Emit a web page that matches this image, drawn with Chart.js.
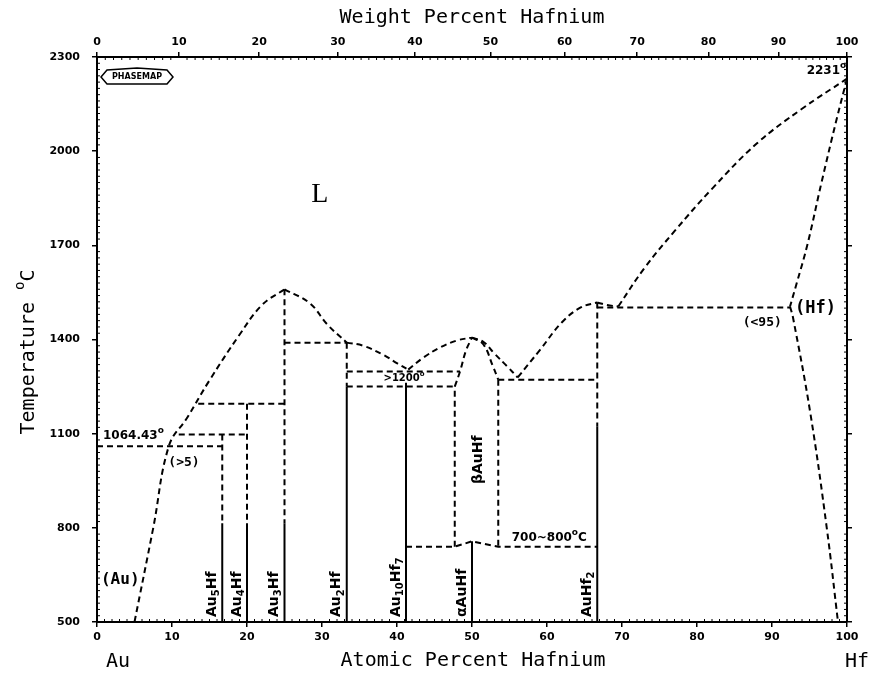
<!DOCTYPE html>
<html>
<head>
<meta charset="utf-8">
<script src="https://cdn.jsdelivr.net/npm/chart.js@4.4.1/dist/chart.umd.min.js"></script>
<style>
  html, body { margin: 0; padding: 0; background: #fff; }
  #wrap { width: 875px; height: 677px; }
</style>
</head>
<body>
<div id="wrap"><canvas id="chart" width="875" height="677"></canvas></div>
<script>
// Diagramme de phases Au-Hf (pourcentage atomique Hf / température)

// TICKS
const atTicks = [0, 10, 20, 30, 40, 50, 60, 70, 80, 90, 100];
const wtTicks = [0, 10, 20, 30, 40, 50, 60, 70, 80, 90, 100];
const tempTicks = [500, 800, 1100, 1400, 1700, 2000, 2300];

// COURBES (at.% Hf, °C)
const auLiquidus = [[5, 500], [7.5, 800], [9.6, 1062], [12, 1150], [15, 1270], [19, 1415], [22, 1510], [25, 1560]];
const au3HfLiquidus = [[25, 1560], [28.4, 1515], [30.7, 1448], [33.3, 1390]];
const au2HfLiquidus = [[33.3, 1390], [35.5, 1380], [38.1, 1352], [40.1, 1323], [41.5, 1304]];
const betaLiquidusLeft = [[41.5, 1304], [43.5, 1342], [45.7, 1374], [48, 1397], [50, 1406]];
const betaLiquidusRight = [[50, 1406], [51.5, 1393], [53, 1355], [54.7, 1314], [56.1, 1279]];
const auHf2Liquidus = [[56.1, 1279], [59.1, 1368], [62, 1455], [64.5, 1502], [66.7, 1518]];
const auHf2ToEutectic = [[66.7, 1518], [68, 1510], [69.5, 1505]];
const hfLiquidus = [[69.5, 1505], [73, 1628], [77, 1745], [82, 1880], [88, 2025], [94, 2135], [100, 2231]];
const hfSolidus = [[100, 2231], [98.6, 2100], [96.6, 1900], [94.7, 1700], [93.3, 1580], [92.4, 1505]];
const hfSolvus = [[92.4, 1505], [92.8, 1470], [95.1, 1167], [97.3, 800], [98.8, 500]];
const betaLeftTop = [[47.7, 1250], [48.4, 1298], [49.2, 1365], [50, 1406]];
const betaRightTop = [[50, 1406], [51.5, 1385], [52.8, 1314], [53.5, 1272]];

// PALIERS ET LIMITES DROITES
const auEutectic = [[0, 1060], [16.7, 1060]];
const au5HfPeritectic = [[10.9, 1097], [20, 1097]];
const au4HfPeritectic = [[13.5, 1195], [25, 1195]];
const au2HfPeritectic = [[25, 1390], [33.3, 1390]];
const line1300 = [[33.3, 1298], [48.4, 1298]];
const line1250 = [[33.3, 1250], [47.7, 1250]];
const auHf2Eutectic = [[53.5, 1272], [66.7, 1272]];
const hfEutectic = [[66.7, 1502], [92.4, 1502]];
const lowTransition = [[41.2, 740], [47.7, 740], [50, 757], [53.5, 740], [66.7, 740]];
const betaLeftSide = [[47.7, 740], [47.7, 1250]];
const betaRightSide = [[53.5, 1272], [53.5, 740]];

// COMPOSES (partie pointillée / partie pleine)
const au5HfDashed = [[16.7, 1097], [16.7, 815]];
const au5HfSolid = [[16.7, 815], [16.7, 500]];
const au4HfDashed = [[20, 1195], [20, 815]];
const au4HfSolid = [[20, 815], [20, 500]];
const au3HfDashed = [[25, 1560], [25, 815]];
const au3HfSolid = [[25, 815], [25, 500]];
const au2HfDashed = [[33.3, 1390], [33.3, 1250]];
const au2HfSolid = [[33.3, 1250], [33.3, 500]];
const au10Hf7Solid = [[41.2, 1262], [41.2, 500]];
const alphaAuHfSolid = [[50, 757], [50, 500]];
const auHf2Dashed = [[66.7, 1518], [66.7, 1122]];
const auHf2Solid = [[66.7, 1122], [66.7, 500]];

const wtToAt = w => {
  const a = w / 178.49, b = (100 - w) / 196.97;
  return 100 * a / (a + b);
};

function line(arr, dashed, curve) {
  return {
    data: arr.map(p => ({ x: p[0], y: p[1] })),
    showLine: true,
    borderColor: '#000',
    borderWidth: 2,
    borderDash: dashed ? [6, 4] : [],
    pointRadius: 0,
    tension: curve ? 0.4 : 0,
    fill: false,
    clip: 4
  };
}

const datasets = [
  line(auLiquidus, true, true),
  line(au3HfLiquidus, true, true),
  line(au2HfLiquidus, true, true),
  line(betaLiquidusLeft, true, true),
  line(betaLiquidusRight, true, true),
  line(auHf2Liquidus, true, true),
  line(auHf2ToEutectic, true, true),
  line(hfLiquidus, true, true),
  line(hfSolidus, true, true),
  line(hfSolvus, true, true),
  line(betaLeftTop, true, true),
  line(betaRightTop, true, true),
  line(auEutectic, true),
  line(au5HfPeritectic, true),
  line(au4HfPeritectic, true),
  line(au2HfPeritectic, true),
  line(line1300, true),
  line(line1250, true),
  line(auHf2Eutectic, true),
  line(hfEutectic, true),
  line(lowTransition, true),
  line(betaLeftSide, true),
  line(betaRightSide, true),
  line(au5HfDashed, true), line(au5HfSolid, false),
  line(au4HfDashed, true), line(au4HfSolid, false),
  line(au3HfDashed, true), line(au3HfSolid, false),
  line(au2HfDashed, true), line(au2HfSolid, false),
  line(au10Hf7Solid, false),
  line(alphaAuHfSolid, false),
  line(auHf2Dashed, true), line(auHf2Solid, false)
];

// TEXTE AVEC INDICES / EXPOSANTS
function richWidth(ctx, parts, size, family, weight) {
  let w = 0;
  parts.forEach(p => {
    const s = p[1] ? Math.round(size * 0.72) : size;
    ctx.font = weight + ' ' + s + 'px ' + family;
    w += ctx.measureText(p[0]).width;
  });
  return w;
}

function drawRich(ctx, parts, x, y, size, family, weight, align) {
  const w = richWidth(ctx, parts, size, family, weight);
  let cx = align === 'center' ? x - w / 2 : align === 'right' ? x - w : x;
  ctx.textBaseline = 'middle';
  ctx.textAlign = 'left';
  parts.forEach(p => {
    const s = p[1] ? Math.round(size * 0.72) : size;
    ctx.font = weight + ' ' + s + 'px ' + family;
    let dy = 0;
    if (p[1] === 'sup') dy = -size * 0.45;
    if (p[1] === 'sub') dy = size * 0.3;
    ctx.fillText(p[0], cx, y + dy);
    cx += ctx.measureText(p[0]).width;
  });
}

function drawVertical(ctx, parts, x, y, size, family, weight, align) {
  ctx.save();
  ctx.translate(x, y);
  ctx.rotate(-Math.PI / 2);
  drawRich(ctx, parts, 0, 0, size, family, weight, align);
  ctx.restore();
}

const MONO = '"DejaVu Sans Mono", monospace';
const SANS = '"DejaVu Sans", sans-serif';

const decorPlugin = {
  id: 'decor',
  afterDraw(chart) {
    const ctx = chart.ctx;
    const xs = chart.scales.x, ys = chart.scales.y;
    const a = chart.chartArea;
    const px = v => xs.getPixelForValue(v);
    const py = v => ys.getPixelForValue(v);
    ctx.save();
    ctx.fillStyle = '#000';
    ctx.strokeStyle = '#000';

    // petites graduations
    ctx.lineWidth = 1;
    ctx.beginPath();
    for (let i = 1; i < 100; i++) {
      if (i % 10 === 0) continue;
      const x = px(i);
      ctx.moveTo(x, a.bottom); ctx.lineTo(x, a.bottom - 3);
      const xt = px(wtToAt(i));
      ctx.moveTo(xt, a.top); ctx.lineTo(xt, a.top + 3);
    }
    for (let t = 520; t < 2300; t += 20) {
      if ((t - 500) % 300 === 0) continue;
      const y = py(t);
      ctx.moveTo(a.left, y); ctx.lineTo(a.left + 3, y);
      ctx.moveTo(a.right, y); ctx.lineTo(a.right - 3, y);
    }
    ctx.stroke();

    // titres des axes
    drawRich(ctx, [['Weight Percent Hafnium']], 472, 18, 20, MONO, 'normal', 'center');
    drawRich(ctx, [['Atomic Percent Hafnium']], 473, 661, 20, MONO, 'normal', 'center');
    drawRich(ctx, [['Au']], 118, 662, 20, MONO, 'normal', 'center');
    drawRich(ctx, [['Hf']], 857, 662, 20, MONO, 'normal', 'center');
    drawVertical(ctx, [['Temperature '], ['o', 'sup'], ['C']], 29, 352, 20, MONO, 'normal', 'center');

    // logo PHASEMAP
    const lx = a.left + 4, ly = a.top + 12;
    ctx.lineWidth = 1.5;
    ctx.beginPath();
    ctx.moveTo(lx, ly + 8);
    ctx.lineTo(lx + 6, ly + 1);
    ctx.lineTo(lx + 36, ly - 1);
    ctx.lineTo(lx + 66, ly + 1);
    ctx.lineTo(lx + 72, ly + 8);
    ctx.lineTo(lx + 66, ly + 15);
    ctx.lineTo(lx + 6, ly + 15);
    ctx.closePath();
    ctx.stroke();
    drawRich(ctx, [['PHASEMAP']], lx + 36, ly + 8, 8, SANS, 'bold', 'center');

    // étiquettes
    ctx.font = 'normal 28px "Liberation Serif", serif';
    ctx.textAlign = 'center';
    ctx.textBaseline = 'middle';
    ctx.fillText('L', px(29.7), py(1862));

    drawRich(ctx, [['(Au)']], px(3.1), py(634), 16, MONO, 'bold', 'center');
    drawRich(ctx, [['(>5)']], px(11.6), py(1007), 13, MONO, 'bold', 'center');
    drawRich(ctx, [['1064.43'], ['o', 'sup']], px(0.8), py(1092), 12, SANS, 'bold', 'left');
    drawRich(ctx, [['(<95)']], px(88.7), py(1454), 13, MONO, 'bold', 'center');
    drawRich(ctx, [['(Hf)']], px(95.8), py(1497), 17, MONO, 'bold', 'center');
    drawRich(ctx, [['2231'], ['o', 'sup']], px(99.9), py(2255), 12, SANS, 'bold', 'right');
    drawRich(ctx, [['>1200'], ['o', 'sup']], px(38.2), py(1275), 10, SANS, 'bold', 'left');
    drawRich(ctx, [['700~800'], ['o', 'sup'], ['C']], px(60.3), py(768), 12, SANS, 'bold', 'center');

    // composés (texte vertical)
    const yb = py(500) - 5;
    drawVertical(ctx, [['Au'], ['5', 'sub'], ['Hf']], px(16.7) - 10, yb, 14, SANS, 'bold', 'left');
    drawVertical(ctx, [['Au'], ['4', 'sub'], ['Hf']], px(20) - 10, yb, 14, SANS, 'bold', 'left');
    drawVertical(ctx, [['Au'], ['3', 'sub'], ['Hf']], px(25) - 10, yb, 14, SANS, 'bold', 'left');
    drawVertical(ctx, [['Au'], ['2', 'sub'], ['Hf']], px(33.3) - 10, yb, 14, SANS, 'bold', 'left');
    drawVertical(ctx, [['Au'], ['10', 'sub'], ['Hf'], ['7', 'sub']], px(41.2) - 10, yb, 14, SANS, 'bold', 'left');
    drawVertical(ctx, [['\u03b1AuHf']], px(50) - 10, yb, 14, SANS, 'bold', 'left');
    drawVertical(ctx, [['AuHf'], ['2', 'sub']], px(66.7) - 10, yb, 14, SANS, 'bold', 'left');
    drawVertical(ctx, [['\u03b2AuHf']], px(50.8), py(1017), 14, SANS, 'bold', 'center');

    ctx.restore();
  }
};

const tickFont = { family: '"DejaVu Sans", sans-serif', size: 11, weight: 'bold' };
const axisBase = {
  type: 'linear',
  grid: { display: true, drawOnChartArea: false, drawTicks: true, tickLength: 5, color: '#000', lineWidth: 1.5 },
  border: { display: true, color: '#000', width: 2 },
  ticks: { color: '#000', font: tickFont, autoSkip: false, maxRotation: 0, callback: v => String(v) }
};

new Chart(document.getElementById('chart'), {
  type: 'scatter',
  data: { datasets: datasets },
  options: {
    responsive: false,
    animation: false,
    layout: { padding: 0 },
    plugins: { legend: { display: false }, tooltip: { enabled: false } },
    scales: {
      x: Object.assign({}, axisBase, {
        position: 'bottom', min: 0, max: 100,
        ticks: Object.assign({}, axisBase.ticks, { padding: 4 }),
        afterBuildTicks: s => { s.ticks = atTicks.map(v => ({ value: v })); },
        afterFit: s => { s.height = 55; }
      }),
      x2: Object.assign({}, axisBase, {
        position: 'top', min: 0, max: 100,
        ticks: Object.assign({}, axisBase.ticks, { padding: 3, callback: (v, i) => String(wtTicks[i]) }),
        afterBuildTicks: s => { s.ticks = wtTicks.map(w => ({ value: wtToAt(w) })); },
        afterFit: s => { s.height = 57; }
      }),
      y: Object.assign({}, axisBase, {
        position: 'left', min: 500, max: 2300,
        ticks: Object.assign({}, axisBase.ticks, { padding: 12 }),
        afterBuildTicks: s => { s.ticks = tempTicks.map(v => ({ value: v })); },
        afterFit: s => { s.width = 97; }
      }),
      y2: Object.assign({}, axisBase, {
        position: 'right', min: 500, max: 2300,
        ticks: Object.assign({}, axisBase.ticks, { display: false }),
        afterBuildTicks: s => { s.ticks = tempTicks.map(v => ({ value: v })); },
        afterFit: s => { s.width = 28; }
      })
    }
  },
  plugins: [decorPlugin]
});
</script>
</body>
</html>
